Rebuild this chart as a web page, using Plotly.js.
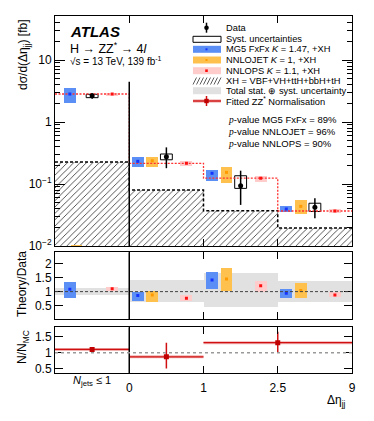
<!DOCTYPE html>
<html>
<head>
<meta charset="utf-8">
<script src="https://cdn.plot.ly/plotly-3.0.1.min.js"></script>
<style>
html, body { margin: 0; padding: 0; background: #fff; }
#chart { width: 374px; height: 421px; }
</style>
</head>
<body>
<div id="chart"></div>
<script>
// bins: Njets <= 1, then dEta_jj 0-1, 1-2.5, 2.5-9 (drawn with equal widths)
const edgeLabels = ['0', '1', '2.5', '9']
const binIndex = [0, 1, 2, 3]

// top panel, dsigma/d(dEta_jj) [fb]
const dataVal = [2.65, 0.275, 0.094, 0.042]
const dataErrLo = [2.38, 0.18, 0.046, 0.028]
const dataErrHi = [2.90, 0.39, 0.164, 0.059]
const dataSystLo = [2.47, 0.246, 0.085, 0.036]
const dataSystHi = [2.80, 0.305, 0.136, 0.049]

const mg5Val = [2.83, 0.232, 0.149, 0.0395]
const mg5Lo = [2.02, 0.19, 0.113, 0.035]
const mg5Hi = [3.53, 0.276, 0.17, 0.0447]

const nnlojetVal = [0.006, 0.237, 0.154, 0.0436]
const nnlojetLo = [0.004, 0.185, 0.104, 0.033]
const nnlojetHi = [0.0102, 0.27, 0.185, 0.056]

const nnlopsVal = [2.83, 0.216, 0.124, 0.0367]
const nnlopsLo = [2.63, 0.197, 0.109, 0.034]
const nnlopsHi = [2.99, 0.232, 0.136, 0.0395]

const xhVal = [0.226, 0.080, 0.037, 0.0195]

// middle panel, theory / data
const bandLo = [0.88, 0.64, 0.44, 0.64]
const bandHi = [1.14, 1.42, 1.66, 1.40]
const mg5Ratio = [1.09, 0.86, 1.42, 0.94]
const mg5RatioLo = [0.78, 0.67, 1.10, 0.78]
const mg5RatioHi = [1.34, 1.00, 1.70, 1.10]
const nnlojetRatio = [null, 0.88, 1.46, 1.04]
const nnlojetRatioLo = [null, 0.64, 1.02, 0.76]
const nnlojetRatioHi = [null, 1.02, 1.84, 1.30]
const nnlopsRatio = [1.10, 0.76, 1.21, 0.88]
const nnlopsRatioLo = [1.04, 0.67, 1.00, 0.80]
const nnlopsRatioHi = [1.16, 0.88, 1.38, 0.98]

// bottom panel, fitted ZZ* normalisation
const normVal = [1.107, 0.875, 1.32]
const normLo = [1.085, 0.51, 1.0]
const normHi = [1.13, 1.32, 1.66]
const normFrom = [-1, 0, 1]
const normTo = [0, 1, 3]
const normAt = [-0.5, 0.5, 2]

const BLUE = '#5b8ff6', BLUE_DOT = '#1533ff'
const ORANGE = '#ffc14d', ORANGE_DOT = '#ff9a00'
const PINK = '#ffcccc', PINK_DOT = '#ff1010'
const RED = '#c00000'
const FONT = 'Liberation Sans, Arial, sans-serif'
const BOXW = 0.16

// x position inside bin i
function xpos(off, off0){
	return binIndex.map(i => i - 1 + (i == 0 && off0 != null ? off0 : off))
}

function boxes(xs, val, lo, hi, color, dot, ya){
	let X = [], B = [], Y = [], C = []
	for(let i=0;i<xs.length;i++){
		if(val[i] == null) continue
		X.push(xs[i]); B.push(lo[i]); Y.push(hi[i] - lo[i]); C.push(val[i])
	}
	return [
		{type:'bar', x:X, base:B, y:Y, width:BOXW, yaxis:ya, xaxis:ya.replace('y','x'),
		 marker:{color:color, line:{width:0}}, hoverinfo:'skip'},
		{type:'scatter', mode:'markers', x:X, y:C, yaxis:ya, xaxis:ya.replace('y','x'),
		 marker:{symbol:'square', size:3, color:dot}, hoverinfo:'skip'}
	]
}

function step(vals){
	return {x:[-1,0,1,2,3], y:vals.concat([vals[vals.length-1]])}
}

const xMg5 = xpos(0.115, 0.2)
const xJet = xpos(0.31, 0.29)
const xData = xpos(0.5)
const xPs = xpos(0.77)
const xMid = xpos(0.5)

let traces = []

// hatched XH
traces.push({type:'bar', x:xMid, base:xhVal.map(() => 1e-3), y:xhVal.map(v => v - 1e-3), width:1,
	marker:{color:'white', line:{width:0}, pattern:{shape:'/', fgcolor:'#444', bgcolor:'white', size:4.5, solidity:0.2}},
	hoverinfo:'skip'})
let s = step(xhVal)
traces.push({type:'scatter', mode:'lines', x:s.x, y:s.y, line:{shape:'hv', color:'black', width:1.5, dash:'3px,2px'}, hoverinfo:'skip'})
s = step(nnlopsVal)
traces.push({type:'scatter', mode:'lines', x:s.x, y:s.y, line:{shape:'hv', color:'#ff3030', width:1.3, dash:'2px,1.5px'}, hoverinfo:'skip'})

traces = traces.concat(boxes(xMg5, mg5Val, mg5Lo, mg5Hi, BLUE, BLUE_DOT, 'y'))
traces = traces.concat(boxes(xJet, nnlojetVal, nnlojetLo, nnlojetHi, ORANGE, ORANGE_DOT, 'y'))
traces = traces.concat(boxes(xPs, nnlopsVal, nnlopsLo, nnlopsHi, PINK, PINK_DOT, 'y'))

// data
traces.push({type:'bar', x:xData, base:dataSystLo, y:dataSystHi.map((v,i) => v - dataSystLo[i]), width:BOXW,
	marker:{color:'rgba(255,255,255,0)', line:{color:'black', width:1}}, hoverinfo:'skip'})
traces.push({type:'scatter', mode:'markers', x:xData, y:dataVal,
	error_y:{type:'data', symmetric:false, array:dataErrHi.map((v,i) => v - dataVal[i]), arrayminus:dataVal.map((v,i) => v - dataErrLo[i]), thickness:1.5, width:0, color:'black'},
	marker:{symbol:'circle', size:5, color:'black'}, hoverinfo:'skip'})

// ratio panel
traces.push({type:'bar', x:xMid, base:bandLo, y:bandHi.map((v,i) => v - bandLo[i]), width:1, xaxis:'x2', yaxis:'y2',
	marker:{color:'#e1e1e1', line:{width:0}}, hoverinfo:'skip'})
traces = traces.concat(boxes(xMg5, mg5Ratio, mg5RatioLo, mg5RatioHi, BLUE, BLUE_DOT, 'y2'))
traces = traces.concat(boxes(xJet, nnlojetRatio, nnlojetRatioLo, nnlojetRatioHi, ORANGE, ORANGE_DOT, 'y2'))
traces = traces.concat(boxes(xPs, nnlopsRatio, nnlopsRatioLo, nnlopsRatioHi, PINK, PINK_DOT, 'y2'))

// normalisation panel
let nx = [], ny = []
for(let i=0;i<normVal.length;i++){
	nx.push(normFrom[i], normTo[i], null)
	ny.push(normVal[i], normVal[i], null)
}
traces.push({type:'scatter', mode:'lines', x:nx, y:ny, xaxis:'x3', yaxis:'y3', line:{color:'rgba(220,60,60,0.4)', width:3}, hoverinfo:'skip'})
traces.push({type:'scatter', mode:'lines', x:nx, y:ny, xaxis:'x3', yaxis:'y3', line:{color:'#d01010', width:1.3}, hoverinfo:'skip'})
traces.push({type:'scatter', mode:'markers', x:normAt, y:normVal, xaxis:'x3', yaxis:'y3',
	error_y:{type:'data', symmetric:false, array:normHi.map((v,i) => v - normVal[i]), arrayminus:normVal.map((v,i) => v - normLo[i]), thickness:1.5, width:0, color:'#d01010'},
	marker:{symbol:'square', size:5, color:RED}, hoverinfo:'skip'})

// pixel helpers for the hand-drawn legend
const W = 374, H = 421, ML = 55, MR = 22, MT = 16, MB = 48
const PW = W - ML - MR, PH = H - MT - MB
const px = v => (v - ML) / PW
const py = v => (H - MB - v) / PH

let shapes = []
let annotations = []

// separators and reference lines
shapes.push({type:'line', xref:'x', yref:'y domain', x0:0, x1:0, y0:0, y1:0.714, line:{color:'black', width:1.5}})
shapes.push({type:'line', xref:'x2', yref:'y2 domain', x0:0, x1:0, y0:0, y1:1, line:{color:'black', width:1.5}})
shapes.push({type:'line', xref:'x3', yref:'y3 domain', x0:0, x1:0, y0:0, y1:1, line:{color:'black', width:1.5}})
shapes.push({type:'line', xref:'x2 domain', yref:'y2', x0:0, x1:1, y0:1, y1:1, line:{color:'#444', width:1, dash:'3px,2px'}})
shapes.push({type:'line', xref:'x3 domain', yref:'y3', x0:0, x1:1, y0:1, y1:1, line:{color:'#999', width:1.5, dash:'dot'}})

// legend
const rows = [27.7, 39.3, 49.3, 60, 70.7, 81, 90.7, 101]
const legendText = [
	'Data',
	'Syst. uncertainties',
	'MG5 FxFx <i>K</i> = 1.47, +XH',
	'NNLOJET <i>K</i> = 1, +XH',
	'NNLOPS <i>K</i> = 1.1, +XH',
	'XH = VBF+VH+ttH+bbH+tH',
	'Total stat. \u2295 syst. uncertainty',
	'Fitted ZZ<sup>*</sup> Normalisation'
]
const s0 = 193, s1 = 221, sc = 206.5
function rect(y, h, fill, line){
	shapes.push({type:'rect', xref:'paper', yref:'paper', x0:px(s0), x1:px(s1), y0:py(y + h/2), y1:py(y - h/2),
		fillcolor:fill, line:line || {width:0}})
}
function dot(x, y, r, color){
	shapes.push({type:'rect', xref:'paper', yref:'paper', x0:px(x - r), x1:px(x + r), y0:py(y + r), y1:py(y - r), fillcolor:color, line:{width:0}})
}
// data
shapes.push({type:'line', xref:'paper', yref:'paper', x0:px(sc), x1:px(sc), y0:py(rows[0] + 5), y1:py(rows[0] - 5), line:{color:'black', width:1.5}})
shapes.push({type:'circle', xref:'paper', yref:'paper', x0:px(sc - 2.3), x1:px(sc + 2.3), y0:py(rows[0] + 2.3), y1:py(rows[0] - 2.3), fillcolor:'black', line:{width:0}})
rect(rows[1], 6, 'white', {color:'black', width:1})
rect(rows[2], 7, BLUE); dot(sc, rows[2], 1, BLUE_DOT)
rect(rows[3], 7, ORANGE); dot(sc, rows[3], 1, ORANGE_DOT)
rect(rows[4], 7, PINK); dot(sc, rows[4], 1.3, PINK_DOT)
// hatch swatch
let hp = ''
for(let x = s0; x < s1; x += 3.5){
	hp += `M${px(x)},${py(rows[5] + 3.5)} L${px(x + 3.5)},${py(rows[5] - 3.5)} `
}
shapes.push({type:'path', xref:'paper', yref:'paper', path:hp, line:{color:'#333', width:0.8}})
rect(rows[6], 7, '#e1e1e1')
shapes.push({type:'line', xref:'paper', yref:'paper', x0:px(s0), x1:px(s1), y0:py(rows[7]), y1:py(rows[7]), line:{color:'rgba(220,60,60,0.5)', width:3}})
shapes.push({type:'line', xref:'paper', yref:'paper', x0:px(s0), x1:px(s1), y0:py(rows[7]), y1:py(rows[7]), line:{color:'#d01010', width:1.3}})
shapes.push({type:'line', xref:'paper', yref:'paper', x0:px(sc), x1:px(sc), y0:py(rows[7] + 5), y1:py(rows[7] - 5), line:{color:'#d01010', width:1.5}})
dot(sc, rows[7], 2.2, RED)

for(let i=0;i<rows.length;i++){
	annotations.push({xref:'paper', yref:'paper', x:px(224), y:py(rows[i]), xanchor:'left', yanchor:'middle',
		text:legendText[i], showarrow:false, font:{family:FONT, size:9.3, color:'black'}})
}

// p-values
const pText = ['MG5 FxFx = 89%', 'NNLOJET = 96%', 'NNLOPS = 90%']
const pRows = [119.3, 131.7, 143.3]
for(let i=0;i<pText.length;i++){
	annotations.push({xref:'paper', yref:'paper', x:px(226), y:py(pRows[i]), xanchor:'left', yanchor:'middle',
		text:'<span style="font-family:Liberation Serif"><i>p</i></span>-value ' + pText[i], showarrow:false,
		font:{family:FONT, size:9.5, color:'black'}})
}

// ATLAS label
annotations.push({xref:'paper', yref:'paper', x:px(68), y:py(31.7), xanchor:'left', yanchor:'middle',
	text:'<b><i>ATLAS</i></b>', showarrow:false, font:{family:FONT, size:15, color:'black'}})
annotations.push({xref:'paper', yref:'paper', x:px(68), y:py(47.7), xanchor:'left', yanchor:'middle',
	text:'H \u2192 ZZ<sup>*</sup> \u2192 4<i>l</i>', showarrow:false, font:{family:FONT, size:12.5, color:'black'}})
annotations.push({xref:'paper', yref:'paper', x:px(68), y:py(61), xanchor:'left', yanchor:'middle',
	text:'\u221As = 13 TeV, 139 fb<sup>-1</sup>', showarrow:false, font:{family:FONT, size:10, color:'black'}})

// axis titles
annotations.push({xref:'paper', yref:'paper', x:px(24), y:py(55), xanchor:'center', yanchor:'middle', textangle:-90,
	text:'d\u03C3/d(\u0394\u03B7<sub>jj</sub>) [fb]', showarrow:false, font:{family:FONT, size:12, color:'black'}})
annotations.push({xref:'paper', yref:'paper', x:px(22), y:py(284), xanchor:'center', yanchor:'middle', textangle:-90,
	text:'Theory/Data', showarrow:false, font:{family:FONT, size:12, color:'black'}})
annotations.push({xref:'paper', yref:'paper', x:px(23), y:py(347), xanchor:'center', yanchor:'middle', textangle:-90,
	text:'N/N<sub>MC</sub>', showarrow:false, font:{family:FONT, size:12, color:'black'}})
annotations.push({xref:'paper', yref:'paper', x:px(336), y:py(401), xanchor:'center', yanchor:'middle',
	text:'\u0394\u03B7<sub>jj</sub>', showarrow:false, font:{family:FONT, size:12, color:'black'}})
annotations.push({xref:'x3', yref:'paper', x:-0.5, y:py(381), xanchor:'center', yanchor:'middle',
	text:'<i>N</i><sub>jets</sub> \u2264 1', showarrow:false, font:{family:FONT, size:11, color:'black'}})

// minor log ticks
let minorVals = []
for(let d of [0.01, 0.1, 1, 10]){
	for(let k=2;k<=9;k++) minorVals.push(d * k)
}

const frame = {showline:true, linecolor:'black', linewidth:1, mirror:'ticks', showgrid:false, zeroline:false,
	ticks:'inside', tickcolor:'black', tickfont:{family:FONT, size:12, color:'black'}}

const xbase = Object.assign({}, frame, {range:[-1, 3], tickmode:'array', tickvals:[0, 1, 2, 3], ticklen:7, showticklabels:false})

let layout = {
	width:W, height:H,
	margin:{l:ML, r:MR, t:MT, b:MB},
	paper_bgcolor:'white', plot_bgcolor:'white',
	showlegend:false, barmode:'overlay', bargap:0,
	font:{family:FONT, color:'black'},
	xaxis:Object.assign({}, xbase, {anchor:'y'}),
	xaxis2:Object.assign({}, xbase, {anchor:'y2', matches:'x'}),
	xaxis3:Object.assign({}, xbase, {anchor:'y3', matches:'x', showticklabels:true, ticktext:edgeLabels, ticklabelstandoff:4}),
	yaxis:Object.assign({}, frame, {type:'log', domain:[0.3557, 1], range:[-2, 1.71], anchor:'x',
		tickmode:'array', tickvals:[0.01, 0.1, 1, 10], ticktext:['10<sup>\u22122</sup>', '10<sup>\u22121</sup>', '1', '10'], ticklen:10,
		minor:{tickmode:'array', tickvals:minorVals, ticks:'inside', ticklen:5, tickcolor:'black', showgrid:false}}),
	yaxis2:Object.assign({}, frame, {domain:[0.1504, 0.3381], range:[0, 2.42], anchor:'x2',
		tickmode:'array', tickvals:[0.5, 1, 1.5, 2], ticklen:8}),
	yaxis3:Object.assign({}, frame, {domain:[0, 0.128], range:[0.37, 1.80], anchor:'x3',
		tickmode:'array', tickvals:[0.5, 1, 1.5], ticklen:8}),
	shapes:shapes,
	annotations:annotations
}

Plotly.newPlot('chart', traces, layout, {staticPlot:true})
</script>
</body>
</html>
